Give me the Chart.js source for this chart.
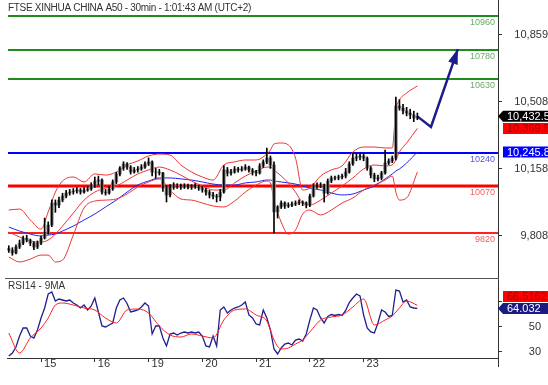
<!DOCTYPE html>
<html>
<head>
<meta charset="utf-8">
<script src="https://cdn.jsdelivr.net/npm/chart.js@4.4.1/dist/chart.umd.min.js"></script>
<style>
html, body { margin: 0; padding: 0; background: #fff; }
#wrap { position: relative; width: 548px; height: 385px; overflow: hidden; background: #fff; }
#priceChart { position: absolute; left: 0; top: 0; }
#rsiChart { position: absolute; left: 0; top: 280px; }
</style>
</head>
<body>
<div id="wrap">
  <canvas id="priceChart" width="548" height="280"></canvas>
  <canvas id="rsiChart" width="548" height="105"></canvas>
</div>
<script>
// 30min bars (index 0..114)
const opens = [9740, 9732, 9717, 9748, 9769, 9795, 9785, 9769, 9748, 9769,
  9795, 9822, 9863, 9979, 9968, 9994, 10015, 10031, 10036, 10042,
  10047, 10036, 10047, 10052, 10068, 10094, 10099, 10036, 10031, 10052,
  10089, 10131, 10162, 10183, 10167, 10141, 10152, 10157, 10167, 10183,
  10194, 10141, 10141, 10136, 10057, 10021, 10063, 10073, 10068, 10063,
  10068, 10063, 10063, 10068, 10057, 10047, 10036, 10021, 10015, 10010,
  10036, 10152, 10136, 10141, 10157, 10152, 10157, 10167, 10152, 10141,
  10136, 10173, 10194, 10214, 10178, 9932, 9958, 9979, 9963, 9968,
  9973, 9979, 9984, 9979, 9968, 10015, 10068, 10068, 10073, 10031,
  10094, 10110, 10110, 10115, 10120, 10141, 10183, 10214, 10220, 10225,
  10214, 10162, 10125, 10105, 10110, 10136, 10188, 10199, 10214, 10487,
  10476, 10461, 10450, 10440, 10424];
const highs = [9755, 9745, 9760, 9785, 9805, 9810, 9790, 9775, 9780, 9805,
  9900, 9880, 9995, 9995, 10010, 10030, 10045, 10050, 10055, 10060,
  10055, 10060, 10065, 10085, 10115, 10120, 10105, 10050, 10065, 10100,
  10140, 10170, 10195, 10190, 10175, 10165, 10170, 10180, 10195, 10215,
  10200, 10160, 10155, 10140, 10070, 10075, 10085, 10080, 10078, 10080,
  10078, 10075, 10080, 10072, 10065, 10055, 10045, 10035, 10025, 10050,
  10175, 10165, 10155, 10170, 10165, 10170, 10180, 10172, 10160, 10150,
  10185, 10205, 10267, 10225, 10194, 9965, 9990, 9985, 9980, 9985,
  9990, 9995, 9990, 9985, 10025, 10080, 10085, 10085, 10078, 10105,
  10120, 10120, 10125, 10130, 10160, 10195, 10240, 10235, 10240, 10235,
  10220, 10170, 10135, 10125, 10145, 10256, 10210, 10225, 10534, 10520,
  10495, 10480, 10470, 10460, 10450];
const lows = [9720, 9705, 9712, 9740, 9760, 9775, 9755, 9735, 9740, 9760,
  9790, 9815, 9855, 9930, 9955, 9985, 10005, 10020, 10025, 10030,
  10025, 10030, 10040, 10045, 10060, 10075, 10025, 10020, 10025, 10045,
  10080, 10120, 10150, 10155, 10130, 10135, 10140, 10150, 10160, 10175,
  10120, 10110, 10125, 10040, 9984, 10010, 10050, 10055, 10050, 10055,
  10052, 10050, 10055, 10045, 10035, 10020, 10005, 10000, 9984, 9990,
  10030, 10120, 10125, 10135, 10140, 10145, 10150, 10140, 10125, 10120,
  10130, 10165, 10185, 10160, 9822, 9900, 9950, 9950, 9955, 9960,
  9965, 9970, 9965, 9953, 9960, 10010, 10055, 10060, 9984, 10025,
  10085, 10100, 10100, 10105, 10110, 10135, 10175, 10200, 10205, 10200,
  10150, 10110, 10090, 10095, 10100, 10130, 10180, 10190, 10205, 10465,
  10445, 10435, 10420, 10405, 10415];
const closes = [9732, 9717, 9748, 9769, 9795, 9785, 9769, 9748, 9769, 9795,
  9822, 9863, 9979, 9968, 9994, 10015, 10031, 10036, 10042, 10047,
  10036, 10047, 10052, 10068, 10094, 10099, 10036, 10031, 10052, 10089,
  10131, 10162, 10183, 10167, 10141, 10152, 10157, 10167, 10183, 10194,
  10141, 10141, 10136, 10057, 10021, 10063, 10073, 10068, 10063, 10068,
  10063, 10063, 10068, 10057, 10047, 10036, 10021, 10015, 10010, 10036,
  10152, 10136, 10141, 10157, 10152, 10157, 10167, 10152, 10141, 10136,
  10173, 10194, 10214, 10178, 9932, 9958, 9979, 9963, 9968, 9973,
  9979, 9984, 9979, 9968, 10015, 10068, 10068, 10073, 10031, 10094,
  10110, 10110, 10115, 10120, 10141, 10183, 10214, 10220, 10225, 10214,
  10162, 10125, 10105, 10110, 10136, 10188, 10199, 10214, 10487, 10476,
  10461, 10450, 10440, 10424, 10432.5];

// indicator lines, read at these bar indexes
const sampleIdx = [0, 3, 6, 9, 11, 13, 15, 18, 21, 24, 27, 30, 33, 36, 39, 42, 45, 48, 51, 54,
  57, 60, 63, 66, 69, 72, 73, 74, 76, 78, 80, 82, 84, 87, 90, 93, 96, 99, 102, 105,
  107, 108, 109, 111, 114];
const bandUpper = [9942, 9947, 9890, 9842, 9932, 10036, 10094, 10115, 10089, 10131,
  10125, 10141, 10178, 10199, 10225, 10235, 10230, 10178, 10141, 10115,
  10099, 10178, 10194, 10204, 10204, 10235, 10256, 10288, 10293, 10283,
  10214, 10047, 10057, 10120, 10152, 10173, 10246, 10272, 10272, 10267,
  10267, 10466, 10518, 10555, 10592];
const bandMiddle = [9827, 9801, 9780, 9774, 9785, 9816, 9858, 9926, 9994, 10036,
  10057, 10068, 10099, 10131, 10152, 10167, 10152, 10125, 10094, 10068,
  10047, 10047, 10084, 10120, 10146, 10167, 10167, 10152, 10120, 10084,
  10036, 9979, 9968, 9994, 10031, 10068, 10110, 10157, 10178, 10173,
  10178, 10204, 10246, 10293, 10369.5];
const bandLower = [9696, 9670, 9685, 9706, 9706, 9670, 9680, 9811, 9953, 9989,
  9994, 10000, 10026, 10063, 10089, 10105, 10047, 10000, 9994, 9979,
  9963, 9958, 9989, 10036, 10073, 10094, 10084, 9994, 9879, 9816,
  9837, 9921, 9942, 9916, 9942, 9979, 10005, 10047, 10073, 10099,
  10120, 10036, 9994, 10005, 10141];
const maLine = [9853, 9832, 9816, 9806, 9811, 9816, 9832, 9858, 9890, 9921,
  9958, 9994, 10036, 10073, 10094, 10110, 10110, 10105, 10099, 10089,
  10078, 10073, 10073, 10084, 10089, 10099, 10099, 10094, 10089, 10084,
  10078, 10068, 10057, 10047, 10031, 10021, 10026, 10047, 10068, 10105,
  10131, 10146, 10157, 10188, 10245.8];

const rsi = [26, 28.4, 33.2, 42, 48.4, 48.4, 42, 40.4, 46.8, 56.4,
  64.4, 75.6, 77.2, 70, 71.6, 70.8, 70, 70.8, 68.4, 66.8,
  64.4, 66.8, 62.8, 66, 72.4, 61.2, 50, 49.2, 50.8, 52.4,
  64.4, 70.8, 72.4, 68, 61.2, 62, 62.8, 65.2, 68.4, 66,
  43.6, 50, 50, 40.4, 34, 43.6, 44.4, 42.8, 44.4, 45.2,
  44.4, 45.2, 44.4, 45.2, 42, 34, 33.2, 42, 34, 62.8,
  65.2, 60.4, 62.8, 64.4, 65.2, 66.8, 69.2, 58.8, 56.4, 51.6,
  50.8, 62.8, 56.4, 46.8, 31.6, 27.6, 32.4, 35.6, 36.4, 34.8,
  38.8, 39.6, 38, 43.6, 54.8, 64.4, 62.8, 56.4, 52.4, 57.6,
  59.2, 58.4, 59.2, 58.4, 62.4, 68.8, 72.4, 75.6, 74, 58.8,
  48.4, 45.2, 44.4, 52.4, 62.8, 61.2, 57.6, 58.4, 78.8, 78,
  69.2, 70.8, 65.2, 64.4, 64.032];
const rsiMa = [44.4, 28.4, 40.4, 48.4, 56.4, 66.8, 68.4, 66.8, 64.4, 62.8,
  56.4, 52.4, 62.8, 63.6, 60.4, 50, 42.8, 41.2, 43.6, 42,
  40.4, 54.8, 62.8, 63.6, 58.8, 54, 46.8, 38.8, 31.6, 32.4,
  35.6, 38.8, 45.2, 54.8, 57.2, 58.8, 65.2, 71.6, 50.8, 54.8,
  58, 61.2, 64.4, 70, 66.5162];

// support / resistance levels and the forecast arrow
const levelValues = [10960, 10780, 10630, 10240, 10070, 9820];
const arrowIdx = [114, 117.8, 125.3];
const arrowVals = [10432.5, 10377, 10785];

// axes
const dayTickIdx = [9, 24, 39, 54, 69, 84, 99];
const dayLabels = ['15', '16', '19', '20', '21', '22', '23'];
const priceTicks = [9808, 10158, 10508, 10859];
const rsiTicks = [30, 50, 70];

const FONT = 'Arial, "Liberation Sans", sans-serif';
const levelStyle = {
  10960: { line: '#1e8c1e', text: '#6aac6a', width: 2 },
  10780: { line: '#1e8c1e', text: '#6aac6a', width: 2 },
  10630: { line: '#1e8c1e', text: '#6aac6a', width: 2 },
  10240: { line: '#0000ff', text: '#5555dd', width: 2 },
  10070: { line: '#ff0000', text: '#f06060', width: 3 },
  9820:  { line: '#ff2020', text: '#f06060', width: 2 }
};

const fmtPrice = v => v.toLocaleString('en-US', { maximumFractionDigits: 1 });
const barIdx = closes.map((c, i) => i);

// fixed axis boxes, no extra label padding
const fixWidth = s => { s.width = 50; s.paddingTop = 0; s.paddingBottom = 0; };
const fixHeight = s => { s.height = 27; s.paddingLeft = 0; s.paddingRight = 0; };

function drawTags(ctx, area, tags) {
  const h = 11;
  const placed = [];
  tags.forEach((t, k) => {
    let y = t.y;
    if (k > 0) {
      placed.forEach(p => {
        if (Math.abs(y - p.y) < h + 1) {
          y = t.value > p.value ? p.y - (h + 1) : p.y + (h + 1);
        }
      });
    }
    placed.push({ y: y, value: t.value });
    const left = area.right + 5;
    ctx.save();
    ctx.fillStyle = t.bg;
    ctx.beginPath();
    if (t.pointer) {
      ctx.moveTo(area.right, y);
      ctx.lineTo(left, y - h / 2);
    } else {
      ctx.moveTo(left, y - h / 2);
    }
    ctx.lineTo(548, y - h / 2);
    ctx.lineTo(548, y + h / 2);
    ctx.lineTo(left, y + h / 2);
    ctx.closePath();
    ctx.fill();
    ctx.fillStyle = t.fg;
    ctx.font = '11px ' + FONT;
    ctx.textBaseline = 'middle';
    ctx.textAlign = 'left';
    ctx.fillText(t.text, left + 4, y + 0.5);
    ctx.restore();
  });
}

const levelsPlugin = {
  id: 'levels',
  beforeDatasetsDraw(chart) {
    const { ctx, chartArea, scales } = chart;
    ctx.save();
    levelValues.forEach(v => {
      const st = levelStyle[v];
      const y = Math.round(scales.y.getPixelForValue(v));
      ctx.strokeStyle = st.line;
      ctx.lineWidth = st.width;
      ctx.beginPath();
      ctx.moveTo(chartArea.left + 1, y);
      ctx.lineTo(chartArea.right, y);
      ctx.stroke();
      ctx.fillStyle = st.text;
      ctx.font = '9px ' + FONT;
      ctx.textAlign = 'right';
      ctx.textBaseline = 'middle';
      ctx.fillText(String(v), chartArea.right - 3, y + 7);
    });
    ctx.restore();
  }
};

const priceOverlay = {
  id: 'priceOverlay',
  afterDraw(chart) {
    const { ctx, chartArea, scales } = chart;
    ctx.save();
    // title
    ctx.fillStyle = '#333';
    ctx.font = '10px ' + FONT;
    ctx.textBaseline = 'middle';
    ctx.letterSpacing = '-0.3px';
    ctx.fillText('FTSE XINHUA CHINA A50 - 30min - 1:01:43 AM (UTC+2)', 8, 8);
    ctx.letterSpacing = '0px';
    // frame
    ctx.strokeStyle = '#555';
    ctx.lineWidth = 1;
    ctx.beginPath();
    ctx.moveTo(5, chartArea.bottom + 0.5);
    ctx.lineTo(chartArea.right, chartArea.bottom + 0.5);
    ctx.moveTo(chartArea.right + 0.5, chartArea.bottom);
    ctx.lineTo(chartArea.right + 0.5, 280);
    ctx.stroke();
    // arrow head
    const n = arrowIdx.length;
    const x1 = scales.x.getPixelForValue(arrowIdx[n - 1]);
    const y1 = scales.y.getPixelForValue(arrowVals[n - 1]);
    const x0 = scales.x.getPixelForValue(arrowIdx[n - 2]);
    const y0 = scales.y.getPixelForValue(arrowVals[n - 2]);
    const a = Math.atan2(y1 - y0, x1 - x0);
    const len = 15, half = 5;
    ctx.fillStyle = '#1c1c8c';
    ctx.beginPath();
    ctx.moveTo(x1, y1);
    ctx.lineTo(x1 - len * Math.cos(a) + half * Math.sin(a), y1 - len * Math.sin(a) - half * Math.cos(a));
    ctx.lineTo(x1 - len * Math.cos(a) - half * Math.sin(a), y1 - len * Math.sin(a) + half * Math.cos(a));
    ctx.closePath();
    ctx.fill();
    ctx.restore();

    const lastClose = closes[closes.length - 1];
    const lastMid = bandMiddle[bandMiddle.length - 1];
    const lastMa = maLine[maLine.length - 1];
    drawTags(ctx, chartArea, [
      { value: lastClose, y: scales.y.getPixelForValue(lastClose), text: fmtPrice(lastClose), bg: '#000', fg: '#fff', pointer: true },
      { value: lastMid, y: scales.y.getPixelForValue(lastMid), text: fmtPrice(lastMid), bg: '#ff0000', fg: '#a00000' },
      { value: lastMa, y: scales.y.getPixelForValue(lastMa), text: fmtPrice(lastMa), bg: '#0000ff', fg: '#fff' }
    ]);
  }
};

const rsiOverlay = {
  id: 'rsiOverlay',
  afterDraw(chart) {
    const { ctx, chartArea, scales } = chart;
    ctx.save();
    ctx.fillStyle = '#333';
    ctx.font = '10px ' + FONT;
    ctx.textBaseline = 'middle';
    ctx.fillText('RSI14 - 9MA', 8, 6);
    ctx.strokeStyle = '#333';
    ctx.lineWidth = 1;
    ctx.beginPath();
    ctx.moveTo(chartArea.right + 0.5, 0);
    ctx.lineTo(chartArea.right + 0.5, chartArea.bottom + 9);
    ctx.stroke();
    ctx.restore();
    const lastRsi = rsi[rsi.length - 1];
    const lastRsiMa = rsiMa[rsiMa.length - 1];
    drawTags(ctx, chartArea, [
      { value: lastRsi, y: scales.y.getPixelForValue(lastRsi), text: String(lastRsi), bg: '#1a1a80', fg: '#fff', pointer: true },
      { value: lastRsiMa, y: scales.y.getPixelForValue(lastRsiMa), text: String(lastRsiMa), bg: '#ff0000', fg: '#a00000' }
    ]);
    // y axis labels (70 sits under the tags, as in the original)
    ctx.save();
    ctx.fillStyle = '#333';
    ctx.font = '11px ' + FONT;
    ctx.textBaseline = 'middle';
    ctx.textAlign = 'right';
    rsiTicks.forEach(v => {
      const y = scales.y.getPixelForValue(v);
      if (v < 60) ctx.fillText(String(v), chartArea.right + 43, y + 0.5);
    });
    ctx.restore();
  }
};

function lineSet(xs, ys, color, width, order) {
  return {
    type: 'line',
    data: xs.map((x, k) => ({ x: x, y: ys[k] })),
    borderColor: color,
    borderWidth: width,
    pointRadius: 0,
    cubicInterpolationMode: 'monotone',
    fill: false,
    order: order
  };
}

new Chart(document.getElementById('priceChart'), {
  type: 'bar',
  data: {
    datasets: [
      {
        type: 'bar',
        data: barIdx.map(i => ({ x: i, y: [lows[i], highs[i]] })),
        backgroundColor: '#000',
        barThickness: 1,
        grouped: false,
        order: 0
      },
      {
        type: 'bar',
        data: barIdx.map(i => ({ x: i, y: [opens[i], closes[i]] })),
        backgroundColor: '#8a8a8a',
        barThickness: 3,
        grouped: false,
        order: 1
      },
      lineSet(sampleIdx, bandUpper, '#ee3333', 1, 2),
      lineSet(sampleIdx, bandMiddle, '#ee3333', 1, 2),
      lineSet(sampleIdx, bandLower, '#ee3333', 1, 2),
      lineSet(sampleIdx, maLine, '#2222ee', 1, 2),
      {
        type: 'line',
        data: arrowIdx.map((x, k) => ({ x: x, y: arrowVals[k] })),
        borderColor: '#1c1c8c',
        borderWidth: 2.5,
        pointRadius: 0,
        tension: 0,
        order: 0
      }
    ]
  },
  options: {
    responsive: false,
    animation: false,
    devicePixelRatio: 1,
    layout: { padding: { left: 7, right: 0, top: 0, bottom: 2 } },
    plugins: { legend: { display: false }, tooltip: { enabled: false } },
    scales: {
      x: { type: 'linear', display: false, min: -0.5, max: 136.5, offset: false },
      y: {
        position: 'right',
        min: 9586,
        max: 11042,
        afterFit: fixWidth,
        afterBuildTicks: s => { s.ticks = priceTicks.map(v => ({ value: v })); },
        grid: { drawOnChartArea: false, tickLength: 4, color: '#333' },
        border: { display: true, color: '#333' },
        ticks: {
          color: '#333',
          font: { size: 11, family: FONT },
          padding: 7,
          autoSkip: false,
          crossAlign: 'far',
          callback: v => fmtPrice(v)
        }
      }
    }
  },
  plugins: [levelsPlugin, priceOverlay]
});

new Chart(document.getElementById('rsiChart'), {
  type: 'line',
  data: {
    datasets: [
      {
        data: barIdx.map(i => ({ x: i, y: rsi[i] })),
        borderColor: '#1f1f8f',
        borderWidth: 1.3,
        pointRadius: 0,
        tension: 0,
        order: 1
      },
      lineSet(sampleIdx, rsiMa, '#ff2020', 1, 0)
    ]
  },
  options: {
    responsive: false,
    animation: false,
    devicePixelRatio: 1,
    layout: { padding: { left: 7, right: 0, top: 5, bottom: 0 } },
    plugins: { legend: { display: false }, tooltip: { enabled: false } },
    scales: {
      x: {
        type: 'linear',
        min: -0.5,
        max: 136.5,
        offset: false,
        afterFit: fixHeight,
        afterBuildTicks: s => { s.ticks = dayTickIdx.map(v => ({ value: v })); },
        grid: { drawOnChartArea: false, tickLength: 4, color: '#333', offset: false },
        border: { display: true, color: '#333' },
        ticks: {
          align: 'start',
          labelOffset: 3,
          padding: -5,
          maxRotation: 0,
          autoSkip: false,
          color: '#333',
          font: { size: 11, family: FONT },
          callback: (v, k) => dayLabels[k]
        }
      },
      y: {
        position: 'right',
        min: 24.4,
        max: 82.8,
        afterFit: fixWidth,
        afterBuildTicks: s => { s.ticks = rsiTicks.map(v => ({ value: v })); },
        grid: { drawOnChartArea: false, tickLength: 4, color: '#333' },
        border: { display: true, color: '#333' },
        ticks: { display: false }
      }
    }
  },
  plugins: [rsiOverlay]
});
</script>
</body>
</html>
